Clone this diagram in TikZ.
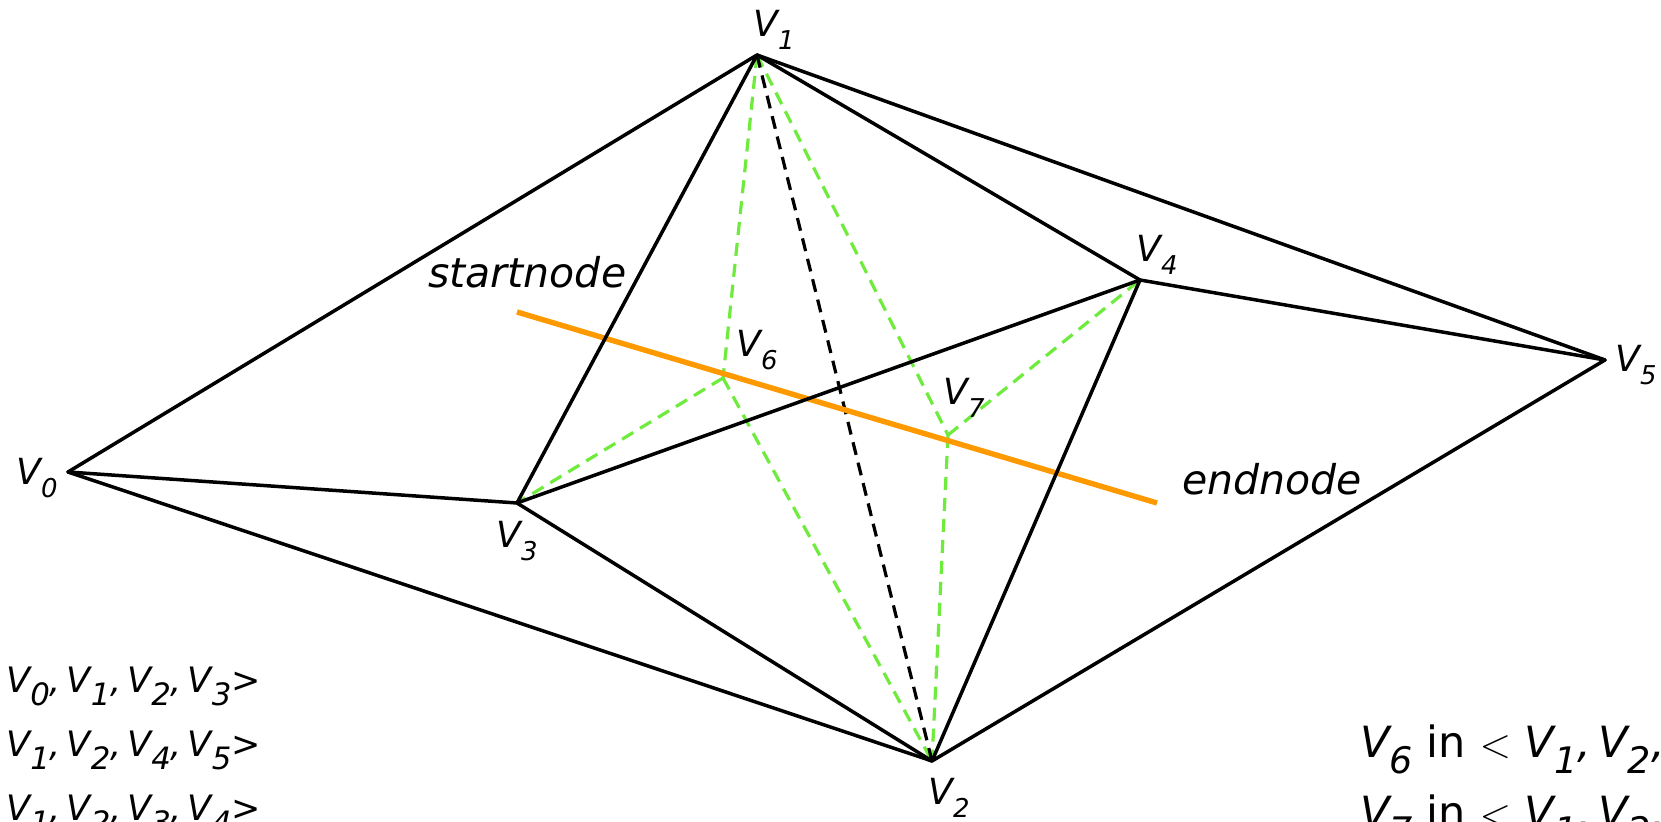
\documentclass[tikz,border=0pt]{standalone}
\usepackage{fontspec}
\setmainfont{DejaVu Sans}
\definecolor{lgreen}{RGB}{110,235,60}
\definecolor{orng}{RGB}{255,153,0}
\newcommand\Vsub[2]{V\raisebox{-0.35em}{\scalebox{#1}{#2}}}
\tikzset{
  edge/.style={line width=1.75pt,black,line cap=round,line join=round},
  gdash/.style={line width=1.6pt,lgreen,dash pattern=on 6.5pt off 4pt},
  bdash/.style={line width=1.6pt,black,dash pattern=on 6.5pt off 4pt},
  cut/.style={line width=2.7pt,orng},
  vlab/.style={anchor=base west,inner sep=0pt,font=\fontsize{18pt}{18pt}\selectfont\itshape},
  wlab/.style={anchor=base west,inner sep=0pt,font=\fontsize{20.5pt}{20.5pt}\selectfont\itshape},
  ltext/.style={anchor=base west,inner sep=0pt,font=\fontsize{17.5pt}{17.5pt}\selectfont\itshape},
  rtext/.style={anchor=base west,inner sep=0pt,font=\fontsize{21.5pt}{21.5pt}\selectfont\itshape},
}
\begin{document}
\begin{tikzpicture}[x=0.5pt,y=-0.5pt]
\useasboundingbox (0,0) rectangle (1661,822);
\coordinate (v0) at (68,472);
\coordinate (v1) at (757,55);
\coordinate (v2) at (932,761);
\coordinate (v3) at (517,503);
\coordinate (v4) at (1140,280);
\coordinate (v5) at (1605,360);
\coordinate (v6) at (723,378);
\coordinate (v7) at (948,435);
\coordinate (os) at (517,312);
\coordinate (oe) at (1157,503);
% green dashed
\foreach \a/\b in {v1/v6,v6/v3,v6/v2,v1/v7,v7/v4,v7/v2}
  \draw[gdash] (\a) -- (\b);
\draw[bdash] (v1) -- (v2);
\draw[cut] (os) -- (oe);
\foreach \a/\b in {v0/v1,v0/v3,v0/v2,v1/v3,v1/v4,v1/v5,v3/v4,v3/v2,v4/v2,v4/v5,v5/v2}
  \draw[edge] (\a) -- (\b);
% labels
\node[vlab] (l1) at (753,37) {\Vsub{0.72}{1}};
\node[vlab] (l0) at (16,485) {\Vsub{0.72}{0}};
\node[vlab] (l5) at (1615,372) {\Vsub{0.72}{5}};
\node[vlab] (l3) at (496,548) {\Vsub{0.72}{3}};
\node[vlab] (l2) at (928,805) {\Vsub{0.72}{2}};
\node[vlab] (l4) at (1136,262) {\Vsub{0.72}{4}};
\node[vlab] (l6) at (736,357) {\Vsub{0.72}{6}};
\node[vlab] (l7) at (943,405) {\Vsub{0.72}{7}};
\node[wlab] (sn) at (428,288) {startnode};
\node[wlab] (en) at (1182,495) {endnode};
% bottom-left text
\node[ltext] (t1) at (6,693) {\Vsub{0.88}{0},\,\Vsub{0.88}{1},\,\Vsub{0.88}{2},\,\Vsub{0.88}{3}>};
\node[ltext] (t2) at (6,757) {\Vsub{0.88}{1},\,\Vsub{0.88}{2},\,\Vsub{0.88}{4},\,\Vsub{0.88}{5}>};
\node[ltext] (t3) at (6,821) {\Vsub{0.88}{1},\,\Vsub{0.88}{2},\,\Vsub{0.88}{3},\,\Vsub{0.88}{4}>};
% bottom-right text
\node[rtext] (r1) at (1360,758) {\Vsub{0.85}{6} \upshape in $<$ \itshape\Vsub{0.85}{1},\,\Vsub{0.85}{2},\,V};
\node[rtext] (r2) at (1360,828) {\Vsub{0.85}{7} \upshape in $<$ \itshape\Vsub{0.85}{1},\,\Vsub{0.85}{2},\,V};
\end{tikzpicture}
\end{document}
